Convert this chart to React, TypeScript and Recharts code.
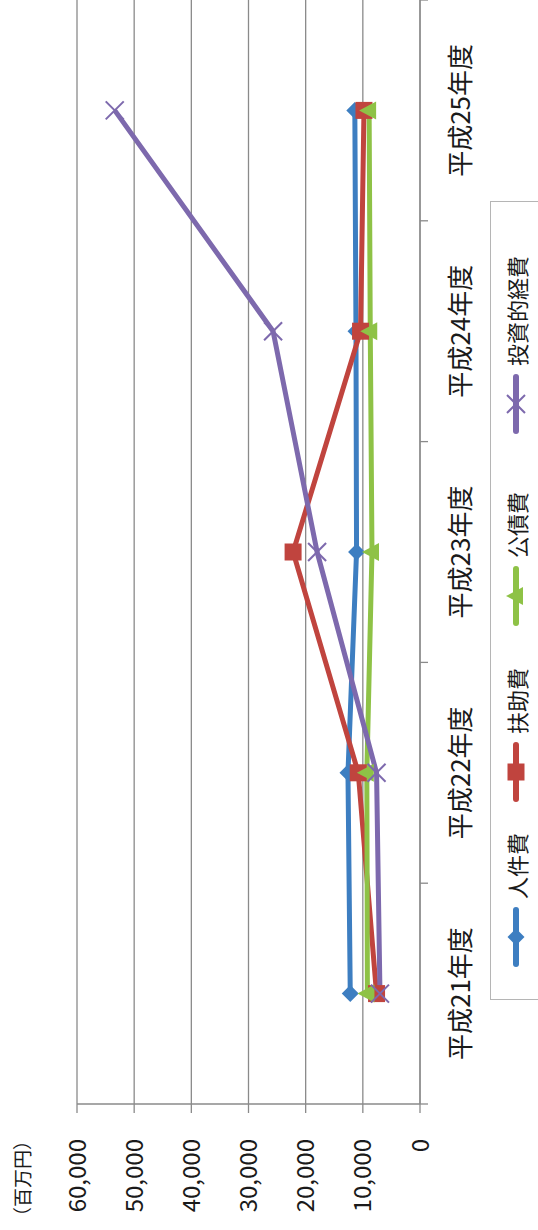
import { LineChart, Line, XAxis, YAxis, CartesianGrid } from 'recharts';

const categories = ['平成21年度', '平成22年度', '平成23年度', '平成24年度', '平成25年度'];
const personnel = [12200, 12600, 11100, 11200, 11400];
const assistance = [7600, 10800, 22200, 10400, 9800];
const debt = [9200, 9300, 8400, 8700, 8900];
const investment = [7000, 7600, 18000, 25700, 53400];
const valueTicks = [0, 10000, 20000, 30000, 40000, 50000, 60000];
const unitLabel = '（百万円）';

const series = [
  { key: 'personnel', name: '人件費', color: '#3d7ec1', marker: 'diamond' },
  { key: 'assistance', name: '扶助費', color: '#c0443e', marker: 'square' },
  { key: 'debt', name: '公債費', color: '#8ec246', marker: 'triangle' },
  { key: 'investment', name: '投資的経費', color: '#7d69ad', marker: 'cross' },
];

const data = categories.map((name, i) => ({
  name,
  personnel: personnel[i],
  assistance: assistance[i],
  debt: debt[i],
  investment: investment[i],
}));

// chart is drawn landscape, then turned to portrait
const W = 1230;
const H = 538;
const PLOT_LEFT = 126;
const PLOT_TOP = 77;
const PLOT_BOTTOM = 420;
const HALF_BAND = (W - PLOT_LEFT) / categories.length / 2;
const FONT = '"Noto Sans CJK JP", "Noto Sans", sans-serif';

function Marker({ type, cx, cy, color }: { type: string; cx: number; cy: number; color: string }) {
  if (type === 'diamond') {
    const r = 8.5;
    return <path d={`M${cx},${cy - r}L${cx + r},${cy}L${cx},${cy + r}L${cx - r},${cy}Z`} fill={color} />;
  }
  if (type === 'square') {
    const s = 17;
    return <rect x={cx - s / 2} y={cy - s / 2} width={s} height={s} fill={color} />;
  }
  if (type === 'triangle') {
    return <path d={`M${cx},${cy - 10}L${cx + 9},${cy + 7}L${cx - 9},${cy + 7}Z`} fill={color} />;
  }
  const r = 9;
  return (
    <g stroke={color} strokeWidth={2}>
      <line x1={cx - r} y1={cy - r} x2={cx + r} y2={cy + r} />
      <line x1={cx - r} y1={cy + r} x2={cx + r} y2={cy - r} />
    </g>
  );
}

function CategoryTick(props: any) {
  const { x, y, payload, index } = props;
  const last = index === categories.length - 1;
  return (
    <g>
      <line x1={x - HALF_BAND} y1={y} x2={x - HALF_BAND} y2={y + 8} stroke="#8a8a8a" strokeWidth={1.3} />
      {last && <line x1={x + HALF_BAND} y1={y} x2={x + HALF_BAND} y2={y + 8} stroke="#8a8a8a" strokeWidth={1.3} />}
      <text x={x} y={y + 50} textAnchor="middle" fontSize={26} fill="#1a1a1a">
        {payload.value}
      </text>
    </g>
  );
}

function LegendBox() {
  const offsets = [32, 197, 373, 565];
  return (
    <div
      style={{
        position: 'absolute',
        left: 230,
        top: 490,
        width: 797,
        height: 70,
        border: '1px solid #b5b5b5',
        background: '#fff',
      }}
    >
      {series.map((s, i) => (
        <div
          key={s.key}
          style={{
            position: 'absolute',
            left: offsets[i],
            top: 10,
            height: 30,
            display: 'flex',
            alignItems: 'center',
            whiteSpace: 'nowrap',
          }}
        >
          <svg width={60} height={24}>
            <line x1={3} y1={12} x2={57} y2={12} stroke={s.color} strokeWidth={6} strokeLinecap="round" />
            <Marker type={s.marker} cx={30} cy={12} color={s.color} />
          </svg>
          <span style={{ marginLeft: 8, fontSize: 22, color: '#1a1a1a' }}>{s.name}</span>
        </div>
      ))}
    </div>
  );
}

export default function App() {
  return (
    <div style={{ position: 'absolute', left: 0, top: 0, width: 538, height: 1230, overflow: 'hidden', background: '#fff' }}>
      <div
        style={{
          position: 'absolute',
          left: 0,
          top: 0,
          width: W,
          height: H,
          transformOrigin: '0 0',
          transform: `translateY(${W}px) rotate(-90deg)`,
          fontFamily: FONT,
        }}
      >
        <div style={{ position: 'absolute', left: 4, top: 8, fontSize: 19, color: '#1a1a1a', width: 90, textAlign: 'right' }}>
          {unitLabel}
        </div>
        <LineChart
          width={W}
          height={H}
          data={data}
          margin={{ top: PLOT_TOP, right: 0, bottom: H - PLOT_BOTTOM - 60, left: 0 }}
        >
          <CartesianGrid vertical={false} stroke="#8a8a8a" strokeWidth={1.3} />
          <XAxis
            dataKey="name"
            scale="band"
            height={60}
            axisLine={{ stroke: '#8a8a8a', strokeWidth: 1.3 }}
            tickLine={false}
            tickSize={0}
            tickMargin={0}
            interval={0}
            tick={<CategoryTick />}
          />
          <YAxis
            width={PLOT_LEFT}
            domain={[0, 60000]}
            ticks={valueTicks}
            tickFormatter={(v: number) => v.toLocaleString('en-US')}
            tickSize={9}
            tickMargin={26}
            axisLine={{ stroke: '#8a8a8a', strokeWidth: 1.3 }}
            tickLine={{ stroke: '#8a8a8a', strokeWidth: 1.3 }}
            tick={{ fontSize: 24, fill: '#1a1a1a' }}
          />
          {series.map((s) => (
            <Line
              key={s.key}
              dataKey={s.key}
              name={s.name}
              stroke={s.color}
              strokeWidth={5}
              strokeLinejoin="round"
              isAnimationActive={false}
              dot={(p: any) => (
                <Marker key={`${s.key}-${p.index}`} type={s.marker} cx={p.cx} cy={p.cy} color={s.color} />
              )}
              activeDot={false}
            />
          ))}
        </LineChart>
        <LegendBox />
      </div>
    </div>
  );
}
